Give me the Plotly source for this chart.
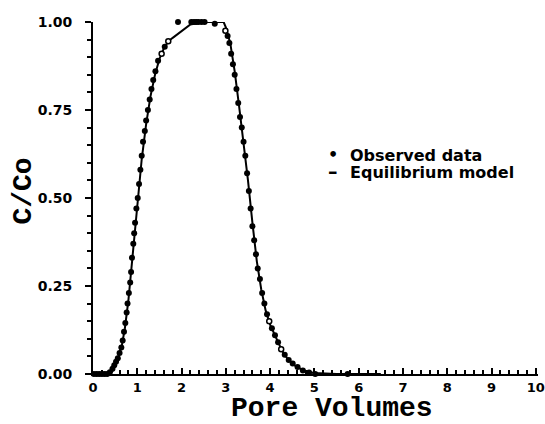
import plotly.graph_objects as go

# Observed data (filled points)
obs_x = [0.02, 0.08, 0.14, 0.20, 0.26, 0.32, 0.38, 0.44, 0.48, 0.52, 0.56, 0.60, 0.64, 0.67,
         0.70, 0.73, 0.76, 0.78, 0.81, 0.84, 0.86, 0.88, 0.91, 0.93, 0.95, 0.98, 1.01, 1.04,
         1.07, 1.10, 1.13, 1.17, 1.20, 1.24, 1.28, 1.32, 1.36, 1.41, 1.47, 1.62, 1.92,
         2.22, 2.28, 2.33, 2.38, 2.45, 2.52, 2.75,
         3.04, 3.08, 3.12, 3.16, 3.20, 3.24, 3.28, 3.32, 3.36, 3.40, 3.44, 3.48, 3.52,
         3.56, 3.60, 3.64, 3.68, 3.72, 3.77, 3.82, 3.87, 3.93, 4.04, 4.11, 4.18,
         4.33, 4.42, 4.51, 4.62, 4.74, 4.88, 5.02, 5.75]
obs_y = [0.0, 0.0, 0.0, 0.0, 0.0, 0.0, 0.005, 0.015, 0.025, 0.035, 0.045, 0.06, 0.075, 0.095,
         0.12, 0.145, 0.175, 0.20, 0.23, 0.26, 0.29, 0.33, 0.37, 0.40, 0.43, 0.47, 0.50, 0.54,
         0.58, 0.62, 0.66, 0.69, 0.72, 0.75, 0.78, 0.81, 0.835, 0.86, 0.89, 0.93, 1.0,
         1.0, 1.0, 1.0, 1.0, 1.0, 1.0, 0.995,
         0.96, 0.94, 0.91, 0.88, 0.85, 0.81, 0.77, 0.73, 0.70, 0.66, 0.62, 0.57, 0.52,
         0.47, 0.42, 0.38, 0.34, 0.30, 0.27, 0.23, 0.20, 0.17, 0.13, 0.11, 0.09,
         0.055, 0.04, 0.03, 0.02, 0.01, 0.004, 0.0, 0.0]

# Observed data drawn hollow in the original
open_x = [1.55, 1.70, 2.99, 3.98, 4.25]
open_y = [0.91, 0.945, 0.975, 0.15, 0.07]

# Equilibrium model
model_x = [0.0, 0.38, 0.45, 0.55, 0.65, 0.72, 0.80, 0.88, 0.95, 1.02, 1.10, 1.20, 1.30, 1.40,
           1.50, 1.60, 1.70, 1.80, 1.90, 2.00, 2.10, 2.20, 2.40, 2.60, 2.95, 3.00, 3.10, 3.20,
           3.30, 3.40, 3.50, 3.60, 3.70, 3.80, 3.90, 4.00, 4.10, 4.20, 4.30, 4.40, 4.50, 4.60,
           4.80, 5.00, 5.50, 6.50]
model_y = [0.0, 0.0, 0.01, 0.04, 0.08, 0.13, 0.21, 0.32, 0.42, 0.51, 0.61, 0.71, 0.79, 0.85,
           0.895, 0.925, 0.945, 0.955, 0.965, 0.975, 0.985, 0.993, 0.998, 1.0, 1.0, 0.985, 0.94, 0.86,
           0.76, 0.66, 0.55, 0.43, 0.32, 0.24, 0.18, 0.14, 0.11, 0.085, 0.06, 0.042, 0.03, 0.02,
           0.008, 0.003, 0.0, 0.0]

x_ticks = [0, 1, 2, 3, 4, 5, 6, 7, 8, 9, 10]
y_ticks = [0.0, 0.25, 0.5, 0.75, 1.0]
y_ticklabels = ["0.00", "0.25", "0.50", "0.75", "1.00"]
legend_labels = ["Observed data", "Equilibrium model"]

fig = go.Figure()
fig.add_trace(go.Scatter(x=model_x, y=model_y, mode="lines", name=legend_labels[1],
                         showlegend=False,
                         line=dict(color="black", width=2), cliponaxis=False))
fig.add_trace(go.Scatter(x=obs_x, y=obs_y, mode="markers", name=legend_labels[0],
                         showlegend=False,
                         marker=dict(color="black", size=6, symbol="circle"), cliponaxis=False))
fig.add_trace(go.Scatter(x=open_x, y=open_y, mode="markers", showlegend=False,
                         name=legend_labels[0],
                         marker=dict(color="white", size=5, symbol="circle",
                                     line=dict(color="black", width=1.5)), cliponaxis=False))

tickfont = dict(family="DejaVu Sans", size=14, color="black", weight="bold")
xtickfont = dict(family="DejaVu Sans", size=13, color="black", weight="bold")
legfont = dict(family="DejaVu Sans", size=16, color="black", weight="bold")
dashfont = dict(family="DejaVu Sans", size=19, color="black", weight="bold")
titlefont = dict(family="Liberation Mono", size=28, color="black", weight="bold")

fig.update_layout(
    width=545, height=424,
    margin=dict(l=93, r=7, t=22, b=50, autoexpand=False),
    paper_bgcolor="white", plot_bgcolor="white",
    showlegend=False,
    xaxis=dict(range=[0, 10.05], tickvals=x_ticks, ticks="inside", ticklen=6, tickwidth=2,
               tickcolor="black", showline=True, linecolor="black", linewidth=2,
               showgrid=False, zeroline=False, tickfont=xtickfont, automargin=False,
               ticklabeloverflow="allow",
               minor=dict(dtick=0.2, ticks="inside", ticklen=4, tickwidth=1.5, tickcolor="black")),
    yaxis=dict(range=[0, 1.0], tickvals=y_ticks, ticktext=y_ticklabels, ticks="outside",
               ticklen=6, tickwidth=2, tickcolor="black", showline=True, linecolor="black",
               linewidth=2, showgrid=False, zeroline=False, tickfont=tickfont, automargin=False,
               ticklabelstandoff=10,
               minor=dict(dtick=0.05, ticks="outside", ticklen=4, tickwidth=1.5, tickcolor="black")),
    annotations=[
        dict(text="Pore Volumes", xref="paper", yref="paper", x=0.537, y=-0.145,
             xanchor="center", yanchor="bottom", showarrow=False, font=titlefont,
             borderpad=0),
        dict(text="C/Co", xref="paper", yref="paper", x=-0.156, y=0.52, textangle=-90,
             xanchor="center", yanchor="middle", showarrow=False, font=titlefont),
        # legend
        dict(text="•", xref="paper", yref="paper", x=0.5395, y=0.625,
             xanchor="center", yanchor="middle", showarrow=False, font=legfont, borderpad=0),
        dict(text=legend_labels[0], xref="paper", yref="paper", x=0.5756, y=0.622,
             xanchor="left", yanchor="middle", showarrow=False, font=legfont, borderpad=0),
        dict(text="–", xref="paper", yref="paper", x=0.5395, y=0.576,
             xanchor="center", yanchor="middle", showarrow=False, font=dashfont, borderpad=0),
        dict(text=legend_labels[1], xref="paper", yref="paper", x=0.5756, y=0.572,
             xanchor="left", yanchor="middle", showarrow=False, font=legfont, borderpad=0),
    ],
)

fig.write_html("out.html")
